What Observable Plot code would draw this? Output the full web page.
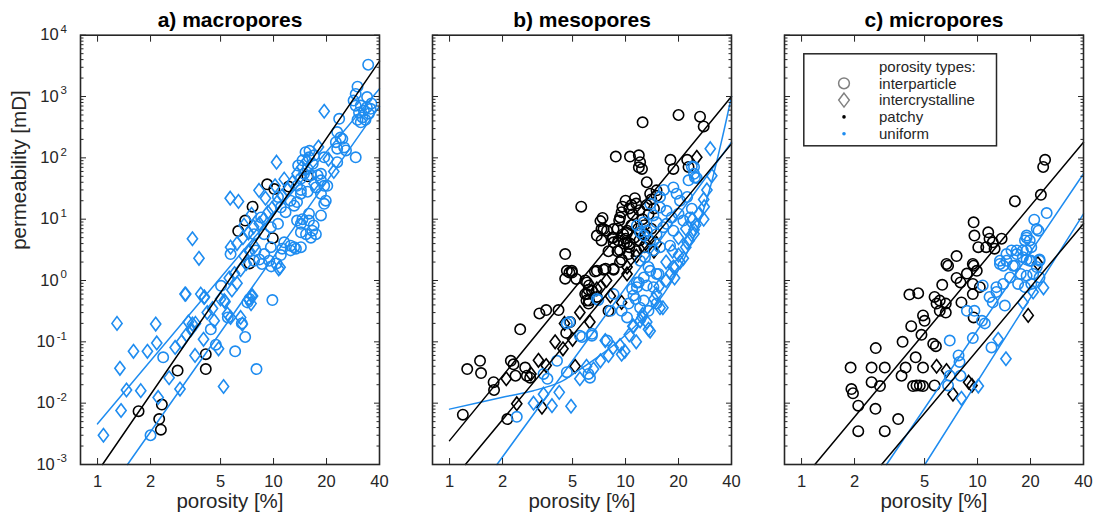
<!DOCTYPE html>
<html><head><meta charset="utf-8">
<script src="https://cdn.jsdelivr.net/npm/d3@7"></script>
<script src="https://cdn.jsdelivr.net/npm/@observablehq/plot@0.6"></script>
<style>
body{margin:0;background:#fff;font-family:"Liberation Sans",Arial,Helvetica,sans-serif}
#fig{position:relative;width:1093px;height:515px;overflow:hidden;background:#fff}
#fig > svg{position:absolute;top:0;overflow:visible}
</style></head><body><div id="fig"></div>
<script>
// ---------- tick labels ----------
const xTicks = [1, 2, 5, 10, 20, 40];
const yMajor = [1e-3, 1e-2, 1e-1, 1, 10, 100, 1000, 10000];
const yMinorMantissa = [2, 3, 4, 5, 6, 7, 8, 9];
const panelTitles = ["a) macropores", "b) mesopores", "c) micropores"];
const xLabel = "porosity [%]";
const yLabel = "permeability [mD]";
const legendTitle = "porosity types:";
const legendItems = ["interparticle", "intercrystalline", "patchy", "uniform"];

// ---------- a) macropores : [porosity %, permeability mD] ----------
const aPatchyInterparticle = [[1.71,0.0074],[2.24,0.0055],[2.32,0.0095],[2.29,0.0037],[2.85,0.034],[4.12,0.063],[4.12,0.036],[7.3,1.9],[6.3,6.4],[7.6,16],[9.2,37],[10.1,31],[6.9,9.5],[9.9,4.9],[12.2,34],[15.6,50]];
const aUniformInterparticle = [[34.5,3300],[30,1450],[34,980],[28.5,860],[29.3,1100],[23.6,433],
[31.3,713],[33.9,668],[32.6,590],[30.6,550],[34.8,525],[32,457],[33.3,417],[30,417],[31.3,380],[35.6,630],[29.3,710],[36,770],
[23,263],[24,214],[22.6,180],[25.8,132],[23,141],[29.3,102],[23,85],[19.4,102],[24.6,204],[25.2,148],
[15.2,124],[15.9,102],[14.6,91],[16.7,80],[15.6,66],[14.9,55],[16.3,52],[14.3,46],[17.8,52],[18.6,55],[19.4,35],[17.4,33],[15.6,28],[18.6,26],[20.2,35],[14.3,30],[13.6,35],[18.6,43],[16,130],[17,110],[13.8,75],
[19.8,20],[18.6,11.5],[19.4,17.8],[15.9,12.3],
[14.6,10],[15.9,9.5],[13.6,9.5],[14.3,8.4],[16.9,7.9],[16.6,6.5],[15.3,5.7],[16.3,5.0],[17.4,5.7],[14.3,6.1],
[13.1,3.5],[14.3,3.5],[12.5,3.1],[11.2,3.3],[11.5,4.2],[12.5,3.7],[13.4,3.3],[11,2.6],
[14.3,26],[13.6,19],[13.1,16.6],[12.5,20],[10.6,23],[11,15.6],[11.7,13],
[10.6,8.4],[9.65,7.4],[8.85,5.7],[9.65,3.5],[8.85,2.7],[7.9,3.1],[8.3,2.2],[9.45,2.1],[8.6,1.86],[7.75,2.1],
[2.0,0.003],[2.36,0.056],[6.9,0.12],[6.05,0.07],[8.0,0.036],[9.85,0.48],[4.4,0.16],[5.03,0.82],[7.1,0.44],[7.3,0.5],[9.7,1.7],[10.4,1.9],[4.7,0.09],[5.5,0.25],[6.6,0.2],[5.7,2.7],[7.75,5.7],[8.5,10.7]];
const aUniformIntercrystalline = [[1.08,0.003],[1.36,0.0076],[1.34,0.037],[1.29,0.2],[1.46,0.0164],[1.6,0.07],[1.76,0.016],[1.92,0.07],[2.14,0.195],[2.17,0.096],[2.21,0.0124],[2.55,0.026],[2.76,0.081],[2.94,0.017],[3.14,0.6],[3.28,0.21],[3.46,0.195],[3.58,0.06],[3.86,0.6],[4.0,0.11],[4.03,0.53],[4.6,0.22],[4.87,0.077],[5.2,0.0187],[5.47,0.285],[6.65,0.195],[7.5,0.56],[10.9,1.64],
[3.77,2.3],[3.46,4.8],[5.67,22],[6.32,19.5],[10.4,85],[19.4,575],[8.27,29.5],
[3.2,0.13],[3.4,0.16],[3.0,0.1],[3.6,0.2],[4.2,0.3],[4.5,0.35],[5.0,0.5],[5.3,0.45],[5.8,0.7],[6.2,0.9],[5.6,1.1],[6.0,1.3],[6.5,1.5],[7.0,1.9],[6.8,2.5],[7.3,3.0],[7.8,3.6],[5.7,3.5],[6.2,4.0],[6.7,5.0],[7.2,6.0],[7.7,7.5],[8.3,8.5],[8.8,10],[9.3,13],[9.8,15],[10.5,19],[11.2,24],[12,30],[12.8,40],[13.6,55],[14.5,70],[15.5,90],[11.5,45],[10.2,35],[9.0,22],[7.5,12],[6.8,8],
[3.17,0.6],[4.05,0.54],[5.25,0.47],[7.25,0.5],[7.6,0.56],[7.45,0.42],[5.7,0.25],[6.5,0.25],[10.7,1.55],
[18,150],[20.5,95],[22,60],[17,38]];
const aFitPatchyInterparticle = [[1.067,0.001],[40,3770]];
const aFitUniformInterparticle = [[1.48,0.001],[40,690]];
const aFitUniformIntercrystalline = [[1,0.0046],[40,1340]];

// ---------- b) mesopores ----------
const bPatchyInterparticle = [[20,500],[12.5,380],[26.5,470],[27.8,325],[8.8,105],[10.6,105],[11.9,110],[12.1,85],[11.9,70],[12.4,66],[13.2,40],[18,93],[18.7,66],[22.4,93],[22.8,71],[5.6,16],[7.4,10.5],[9.2,9.5],[6.87,5.4],[7.3,6.9],[4.54,2.7],[4.95,1.44],[13.8,26],[15,24],[9.3,10.7],
[10,20],[10.5,15],[11,12],[11.5,18],[12,14],[12.5,10],[10.8,8],[11.8,7],[12.8,8],[13.5,12],[9.5,13],[10.2,6],[11.2,5],[12,4.5],[13,5.5],[9,7],[8.5,5],[9.8,4],[10.5,3.5],[11.5,3],[12.8,3.5],[14,7],[14.5,15],[8,3],[9,3],[9.5,2.2],[10.8,17],[11.3,22],[9.6,16],[13.2,17],
[7.2,9.3],[7.85,6.5],[8.4,5.0],[8.55,4.2],[9.7,5.7],[10.2,4.2],[9.3,3.1],[10.4,2.7],[7.3,4.5],
[4.8,1.35],[4.54,1.07],[5.9,1.0],[6.2,0.83],[6.87,1.44],[7.7,1.55],[8.55,1.55],[7.5,6.9],[8.55,6.9],[9.1,4.5],[10.2,6.5],[10,4.8],[10.6,4.0],[6.44,0.69],[6.04,0.6],[6.2,0.47],[6.87,0.54],
[15,29.5],[14,21],
[1.19,0.0065],[1.26,0.036],[1.49,0.049],[1.51,0.031],[1.78,0.022],[1.79,0.0164],[2.13,0.0055],[2.23,0.049],[2.31,0.043],[2.52,0.16],[2.37,0.028],[2.69,0.038],[2.75,0.028],[2.87,0.026],[3.24,0.29],[3.54,0.33],[4.16,0.33],[4.64,1.44],[4.96,1.35],[5.25,1.06],[4.84,0.21],[4.6,0.14],[6.04,0.93],[6.16,0.71],[5.9,0.6],[6.0,0.47],[6.7,1.4],[7.5,1.5],[8.55,1.5],[8.0,0.32],[6.16,0.42],[9.3,2.0]];
const bPatchyIntercrystalline = [[2.1,0.025],[2.41,0.0098],[3.35,0.0086],[3.54,0.041],[3.98,0.1],[4.41,0.077],[5.17,0.04],[6.27,0.21],[7.2,0.78],[9.5,0.44],[10.2,1.28],[25.4,102],[6.87,0.73],[8.2,0.56],[10.2,1.66],[4.5,0.2],[5.0,0.11],[3.2,0.05],[2.9,0.03],[5.5,0.3],[7.8,1.0],[11.5,2.5],[13,4],[15,4.0],[12,6],[14.5,3]];
const bUniformInterparticle = [[2.41,0.006],[3.42,0.03],[4.8,0.21],[4.64,0.032],[5.65,0.12],[6.28,0.026],[6.16,0.03],[6.44,0.126],[7.0,0.48],[7.85,0.105],[8.55,0.6],[11.1,0.57],[11.6,0.93],[13.8,1.44],[14.4,0.78],[15.4,1.28],[4.08,0.049],[11.6,7.9],[23.8,72],[24.8,48],[24.5,71],[3.6,0.025],
[15.7,23],[16.5,30],[18.7,33],[19.5,26],[20.4,20],[22.4,23],[15.7,15.5],[17.1,13.7],[18.3,10.7],[20,12.3],[21.3,9.5],[23.3,10.7],[23.8,14.8],[13.8,17.8],[14.4,11.5],[15,8.9],[12.7,8.9],[16.4,7.4],[13.2,6.5],[12.1,6.1],[22.8,43],[24.5,55],[25.4,47],
[12.7,5.4],[13.8,4.5],[15,5.7],[17.1,8.4],[18.7,6.5],[15.7,3.5],[17.9,3.7],[14.4,3.1],[12.9,2.4],[12.1,2.1],[13.5,1.66],[15,1.28],[12.7,1.12],[11.6,0.78],[13.2,0.83],[12.7,0.47],[12.1,0.36],[13.5,0.32],[15,0.42],[11.4,0.5],[10.4,0.42],[9.5,0.32],[10.2,0.25],
[4.64,0.2],[6.87,0.5],[8.2,0.32],[10.9,0.73],[11.9,0.93],[5.5,0.126],[6.44,0.135]];
const bUniformIntercrystalline = [[3.0,0.01],[3.82,0.0091],[4.9,0.0089],[3.42,0.014],[7.2,0.049],[6.58,0.036],[7.67,0.105],[9.3,0.087],[9.5,0.063],[9.9,0.07],[11.5,0.1],[13.5,0.16],[16.3,0.36],[12.1,0.22],[30.3,141],[30.9,51],[27.8,21],[27.8,10],[24.5,6.7],[21.3,2.3],[20.4,2.0],[24.5,5.8],[15.7,0.36],[13.8,0.15],
[14.5,0.5],[15.5,0.8],[17,1.0],[18,1.3],[19,1.6],[20,2.6],[22,3.5],[23,4.5],[25,8],[26,12],[28,16],[29,30],[12.5,0.28],[11,0.18],[10.5,0.13],[8.5,0.08],[8,0.06],[6,0.04],[5.5,0.025],[4.2,0.015],[15,0.6],[17,2],[18.5,3],[20,5],[22,7],[24,10],[19,1.1],
[22.4,4.2],[18.7,1.66],[13.2,0.21],[11.1,0.18],[12.4,0.25]];
const bFitPatchyInterparticle = [[1,0.00245],[40,1000]];
const bFitPatchyIntercrystalline = [[1.23,0.001],[40,169]];
const bFitUniformInterparticle = [[1.86,0.001],[40,180]];
const bFitUniformIntercrystalline = [[1,0.008],[2,0.0125],[3,0.016],[4.25,0.022],[5.3,0.033],[7.8,0.072],[11.1,0.17],[15.7,0.5],[20,1.5],[25,6],[30,30],[35,180],[40,1000]];

// ---------- c) micropores ----------
const cPatchyInterparticle = [[24.2,93],[23.6,71],[22.9,25],[16.3,19.6],[9.5,8.9],[9.6,5.4],[11.5,6.1],[11.7,4.8],[11.2,3.5],[12.2,4.2],[12.5,3.3],[13.7,4.8],[10.1,3.5],[7.6,2.5],[6.66,1.86],[9.4,1.86],[6.8,1.74],[9.5,1.74],[7.6,1.1],[8.0,0.93],[8.7,1.3],[9.4,0.88],[9.9,1.44],[6.3,0.85],[4.1,0.59],[4.6,0.62],[5.7,0.54],[6.1,0.47],[5.85,0.42],[6.6,0.42],[6.6,0.3],[6.1,0.32],[8.1,0.44],[9.4,0.6],[10.3,0.78],[4.9,0.27],[5.0,0.22],[4.2,0.18],[4.8,0.13],[9.5,0.25],[3.75,0.1],[2.64,0.079],[4.45,0.056],[5.6,0.093],[5.8,0.085],[1.9,0.038],[2.5,0.038],[2.97,0.038],[2.5,0.022],[2.79,0.019],[3.9,0.038],[3.7,0.028],[4.9,0.038],[4.3,0.019],[4.5,0.0195],[4.7,0.0195],[4.9,0.019],[5.7,0.0195],[1.92,0.017],[1.96,0.0145],[2.1,0.0091],[2.63,0.0081],[3.54,0.0055],[2.1,0.0035],[2.97,0.0035]];
const cPatchyIntercrystalline = [[5.85,0.04],[6.66,0.034],[9.3,0.0195],[7.25,0.014],[19.4,0.27],[22,1.9],[8.9,0.022]];
const cUniformInterparticle = [[24.7,12.6],[21,9.8],[22.2,6.5],[19,5.4],[18.6,4.5],[19.8,4.5],[20.2,3.5],[14.6,2.7],[15.6,3.1],[16.7,2.7],[18.1,3.1],[19,2.2],[19.8,2.1],[13.4,2.1],[14,1.74],[15.9,1.74],[22.5,2.2],[10.7,0.83],[12.8,0.65],[11.7,0.54],[12.2,0.44],[8.7,0.32],[9.6,0.32],[14.3,0.39],[10.6,0.22],[11,0.2],[6.95,0.105],[9.4,0.115],[12,0.081],[7.8,0.06],[6.95,0.028],[8,0.028],[6.8,0.0195],[7.9,0.047],
[13.4,1.86],[14.6,2.1],[16.7,3.1],[18.1,2.4],[19,3.1],[20.2,2.1],[21.7,1.66],[22.5,2.1],[16.3,1.74],[17.6,1.28],[19,1.2],[20.7,1.28],[15.3,1.12],[14,0.88],[17,0.88],[18.6,0.78],[20.2,0.88],[12.8,0.78],[22.5,1.12],[21.7,6.9],[19,5.0]];
const cUniformIntercrystalline = [[23.7,0.76],[20.7,0.65],[18.1,0.44],[13.1,0.11],[14.5,0.053],[10.1,0.019],[8.1,0.012]];
const cFitPatchyInterparticle = [[1.19,0.001],[40,180]];
const cFitPatchyIntercrystalline = [[2.85,0.001],[40,8.4]];
const cFitUniformInterparticle = [[3.04,0.001],[40,55]];
const cFitUniformIntercrystalline = [[5.02,0.001],[40,12.2]];

// ---------- styling ----------
const BLACK = "#000000", BLUE = "#1E8CF0", INK = "#262626", GRAY = "#808080";
const FONT = "'Liberation Sans', Arial, Helvetica, sans-serif";
const FRAME_W = 299, MT = 34.7, MB = 51, H = 515;

const diamondSymbol = {
  draw(ctx, size) {
    const r = Math.sqrt(size / Math.PI);
    const h = r * 1.3, w = r * 0.98;
    ctx.moveTo(0, -h); ctx.lineTo(w, 0); ctx.lineTo(0, h); ctx.lineTo(-w, 0); ctx.closePath();
  }
};
const yMinor = yMajor.slice(0, -1).flatMap(p => yMinorMantissa.map(m => m * p));

function panel({title, left, ml, showY, groups, fits}) {
  const mr = 16;
  const marks = [];
  for (const g of groups) {
    marks.push(Plot.dot(g.data, {
      x: d => d[0], y: d => d[1], r: 5.2, stroke: g.color, strokeWidth: 1.6, fill: "none",
      symbol: g.shape === "diamond" ? diamondSymbol : "circle"
    }));
  }
  for (const f of fits) {
    marks.push(Plot.line(f.data, {x: d => d[0], y: d => d[1], stroke: f.color, strokeWidth: 1.5, curve: f.curve || "linear"}));
  }
  marks.push(
    Plot.axisX(xTicks, {anchor: "bottom", tickSize: -6, fill: null, label: null, stroke: INK}),
    Plot.axisX(xTicks, {anchor: "top", tickSize: -6, fill: null, label: null, stroke: INK}),
    // x tick labels as text anchored to the frame bottom
    Plot.text(xTicks, {x: d => d, frameAnchor: "bottom", lineAnchor: "top", dy: 11, text: d => String(d), fontSize: 16.5, fill: INK}),
    Plot.axisY(yMajor, {anchor: "left", tickSize: -6, fill: null, label: null, stroke: INK}),
    Plot.axisY(yMajor, {anchor: "right", tickSize: -6, fill: null, label: null, stroke: INK}),
    Plot.axisY(yMinor, {anchor: "left", tickSize: -3.5, fill: null, label: null, stroke: INK}),
    Plot.axisY(yMinor, {anchor: "right", tickSize: -3.5, fill: null, label: null, stroke: INK}),
    Plot.frame({stroke: INK, strokeWidth: 1.6}),
    Plot.text([title], {frameAnchor: "top", lineAnchor: "bottom", dy: -8.5, fontSize: 21, fontWeight: "bold", fill: "#000"}),
    Plot.text([xLabel], {frameAnchor: "bottom", lineAnchor: "bottom", dy: 43, fontSize: 20.5, fill: INK})
  );
  if (showY) {
    marks.push(
      Plot.axisY(yMajor, {anchor: "left", tickSize: 0, tickPadding: 13.5, fontSize: 16.5, fill: INK, label: null,
        tickFormat: d => "10^" + Math.round(Math.log10(d))}),
      Plot.text([yLabel], {frameAnchor: "left", rotate: -90, lineAnchor: "bottom", dx: -54.5, fontSize: 20.5, fill: INK})
    );
  }
  const svg = Plot.plot({
    width: ml + FRAME_W + mr, height: H,
    marginLeft: ml, marginRight: mr, marginTop: MT, marginBottom: MB,
    x: {type: "log", domain: [0.8, 40]},
    y: {type: "log", domain: [1e-3, 1e4]},
    style: {fontFamily: FONT, color: INK, background: "transparent", overflow: "visible"},
    marks
  });
  svg.style.left = (left - ml) + "px";
  d3.select(svg).selectAll('g[aria-label="y-axis tick label"] text').each(function() {
    const t = this.textContent;
    if (!t.includes("^")) return;
    const [b, e] = t.split("^");
    this.textContent = b;
    d3.select(this).append("tspan").attr("dx", 2).attr("dy", -7.5).attr("font-size", 11.5).text(e);
  });
  return svg;
}

const fig = document.getElementById("fig");
fig.appendChild(panel({
  title: panelTitles[0], left: 80, ml: 80, showY: true,
  groups: [
    {data: aPatchyInterparticle, color: BLACK, shape: "circle"},
    {data: aUniformIntercrystalline, color: BLUE, shape: "diamond"},
    {data: aUniformInterparticle, color: BLUE, shape: "circle"}
  ],
  fits: [
    {data: aFitUniformInterparticle, color: BLUE},
    {data: aFitUniformIntercrystalline, color: BLUE},
    {data: aFitPatchyInterparticle, color: BLACK}
  ]
}));
fig.appendChild(panel({
  title: panelTitles[1], left: 431.5, ml: 20, showY: false,
  groups: [
    {data: bPatchyInterparticle, color: BLACK, shape: "circle"},
    {data: bPatchyIntercrystalline, color: BLACK, shape: "diamond"},
    {data: bUniformIntercrystalline, color: BLUE, shape: "diamond"},
    {data: bUniformInterparticle, color: BLUE, shape: "circle"}
  ],
  fits: [
    {data: bFitUniformInterparticle, color: BLUE},
    {data: bFitUniformIntercrystalline, color: BLUE, curve: "catmull-rom"},
    {data: bFitPatchyInterparticle, color: BLACK},
    {data: bFitPatchyIntercrystalline, color: BLACK}
  ]
}));
fig.appendChild(panel({
  title: panelTitles[2], left: 784, ml: 20, showY: false,
  groups: [
    {data: cPatchyInterparticle, color: BLACK, shape: "circle"},
    {data: cPatchyIntercrystalline, color: BLACK, shape: "diamond"},
    {data: cUniformIntercrystalline, color: BLUE, shape: "diamond"},
    {data: cUniformInterparticle, color: BLUE, shape: "circle"}
  ],
  fits: [
    {data: cFitUniformInterparticle, color: BLUE},
    {data: cFitUniformIntercrystalline, color: BLUE},
    {data: cFitPatchyInterparticle, color: BLACK},
    {data: cFitPatchyIntercrystalline, color: BLACK}
  ]
}));

// ---------- legend (panel c) ----------
const rowY = [13.5, 30.3, 47.1, 63.9, 80.7];
const lg = d3.select(fig).append("svg")
  .attr("width", 196).attr("height", 96)
  .style("left", "802.5px").style("top", "52.5px")
  .style("font-family", FONT);
lg.append("rect").attr("x", 0.8).attr("y", 0.8).attr("width", 192.7).attr("height", 92)
  .attr("fill", "#fff").attr("stroke", INK).attr("stroke-width", 1.5);
lg.append("text").attr("x", 76).attr("y", rowY[0]).attr("dy", "0.35em").attr("font-size", 15).attr("fill", INK).text(legendTitle);
legendItems.forEach((s, i) => {
  lg.append("text").attr("x", 76).attr("y", rowY[i + 1]).attr("dy", "0.35em").attr("font-size", 15).attr("fill", INK).text(s);
});
lg.append("circle").attr("cx", 41).attr("cy", rowY[1]).attr("r", 5.4).attr("fill", "none").attr("stroke", GRAY).attr("stroke-width", 1.5);
lg.append("path").attr("d", d3.symbol(diamondSymbol, Math.PI * 5.4 * 5.4)()).attr("transform", `translate(41,${rowY[2]})`)
  .attr("fill", "none").attr("stroke", GRAY).attr("stroke-width", 1.5);
lg.append("circle").attr("cx", 41).attr("cy", rowY[3]).attr("r", 1.8).attr("fill", BLACK);
lg.append("circle").attr("cx", 41).attr("cy", rowY[4]).attr("r", 1.8).attr("fill", BLUE);
</script></body></html>
